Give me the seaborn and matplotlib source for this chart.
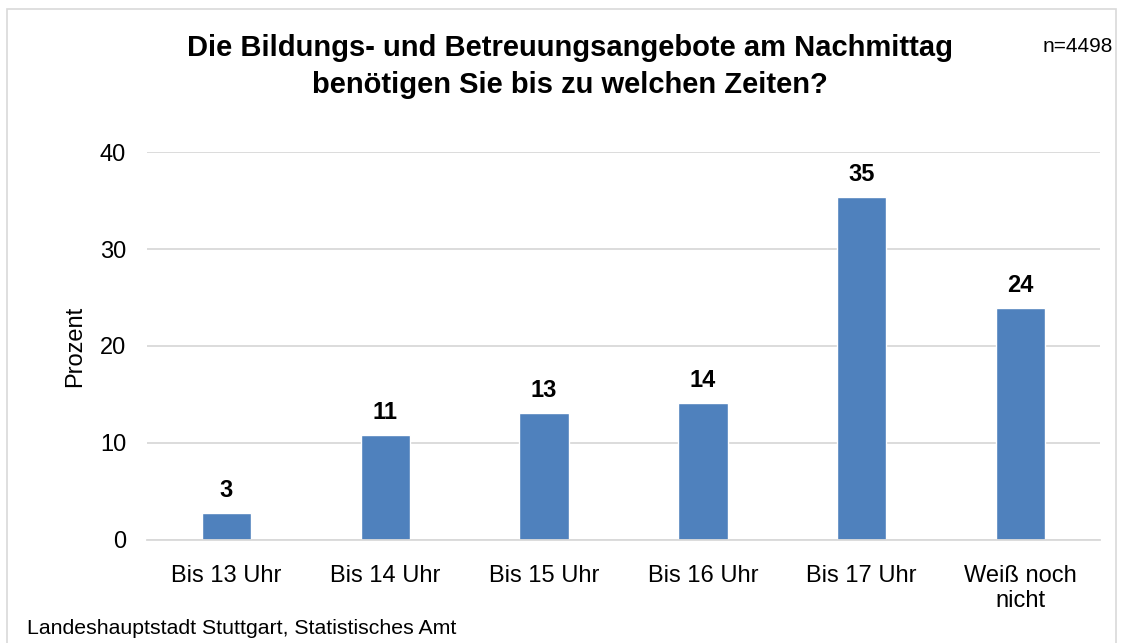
import matplotlib
matplotlib.use("Agg")
import matplotlib.pyplot as plt
import pandas as pd
import seaborn as sns
from matplotlib.patches import Rectangle

categories = ["Bis 13 Uhr", "Bis 14 Uhr", "Bis 15 Uhr", "Bis 16 Uhr", "Bis 17 Uhr", "Weiß noch\nnicht"]
prozent = [2.8, 10.8, 13.1, 14.1, 35.4, 23.9]
yticks = [0, 10, 20, 30, 40]

df = pd.DataFrame({"kategorie": categories, "prozent": prozent})

sns.set_theme(style="white")
plt.rcParams["font.family"] = ["Liberation Sans", "DejaVu Sans"]
plt.rcParams.update({"text.color": "black", "axes.labelcolor": "black",
                     "xtick.color": "black", "ytick.color": "black"})

fig = plt.figure(figsize=(11.23, 6.43), dpi=100)
ax = fig.add_axes([0.1309, 0.1602, 0.8486, 0.6034])

sns.barplot(data=df, x="kategorie", y="prozent", color="#4F81BD", saturation=1,
            width=0.31, ax=ax)

ax.set_ylim(0, 40)
ax.set_xlim(-0.5, 5.5)
ax.set_yticks(yticks)
ax.yaxis.grid(True, color="#D9D9D9", linewidth=1.3)
ax.set_axisbelow(True)
for s in ["top", "right", "left"]:
    ax.spines[s].set_visible(False)
ax.spines["bottom"].set_color("#D9D9D9")
ax.spines["bottom"].set_linewidth(1.3)
ax.tick_params(axis="both", length=0, labelsize=17)
ax.tick_params(axis="x", pad=18)
ax.tick_params(axis="y", pad=15)
ax.set_xlabel("")
ax.set_ylabel("Prozent", fontsize=17, labelpad=10)

for bar, v in zip(ax.patches, prozent):
    ax.annotate(f"{v:.0f}", (bar.get_x() + bar.get_width() / 2, v),
                xytext=(0, 8), textcoords="offset points",
                ha="center", va="bottom", fontsize=17, fontweight="bold")

fig.text(0.5076, 0.8966, "Die Bildungs- und Betreuungsangebote am Nachmittag\nbenötigen Sie bis zu welchen Zeiten?",
         ha="center", va="center", fontsize=21, fontweight="bold", linespacing=1.4)
fig.text(0.991, 0.927, "n=4498", ha="right", va="center", fontsize=15)
fig.text(0.024, 0.023, "Landeshauptstadt Stuttgart, Statistisches Amt", ha="left", va="center", fontsize=15.3)

fig.patches.append(Rectangle((0.0065, -0.05), 0.987, 1.036, transform=fig.transFigure,
                             fill=False, edgecolor="#D9D9D9", linewidth=1.2))

fig.savefig("out.png", dpi=100)
